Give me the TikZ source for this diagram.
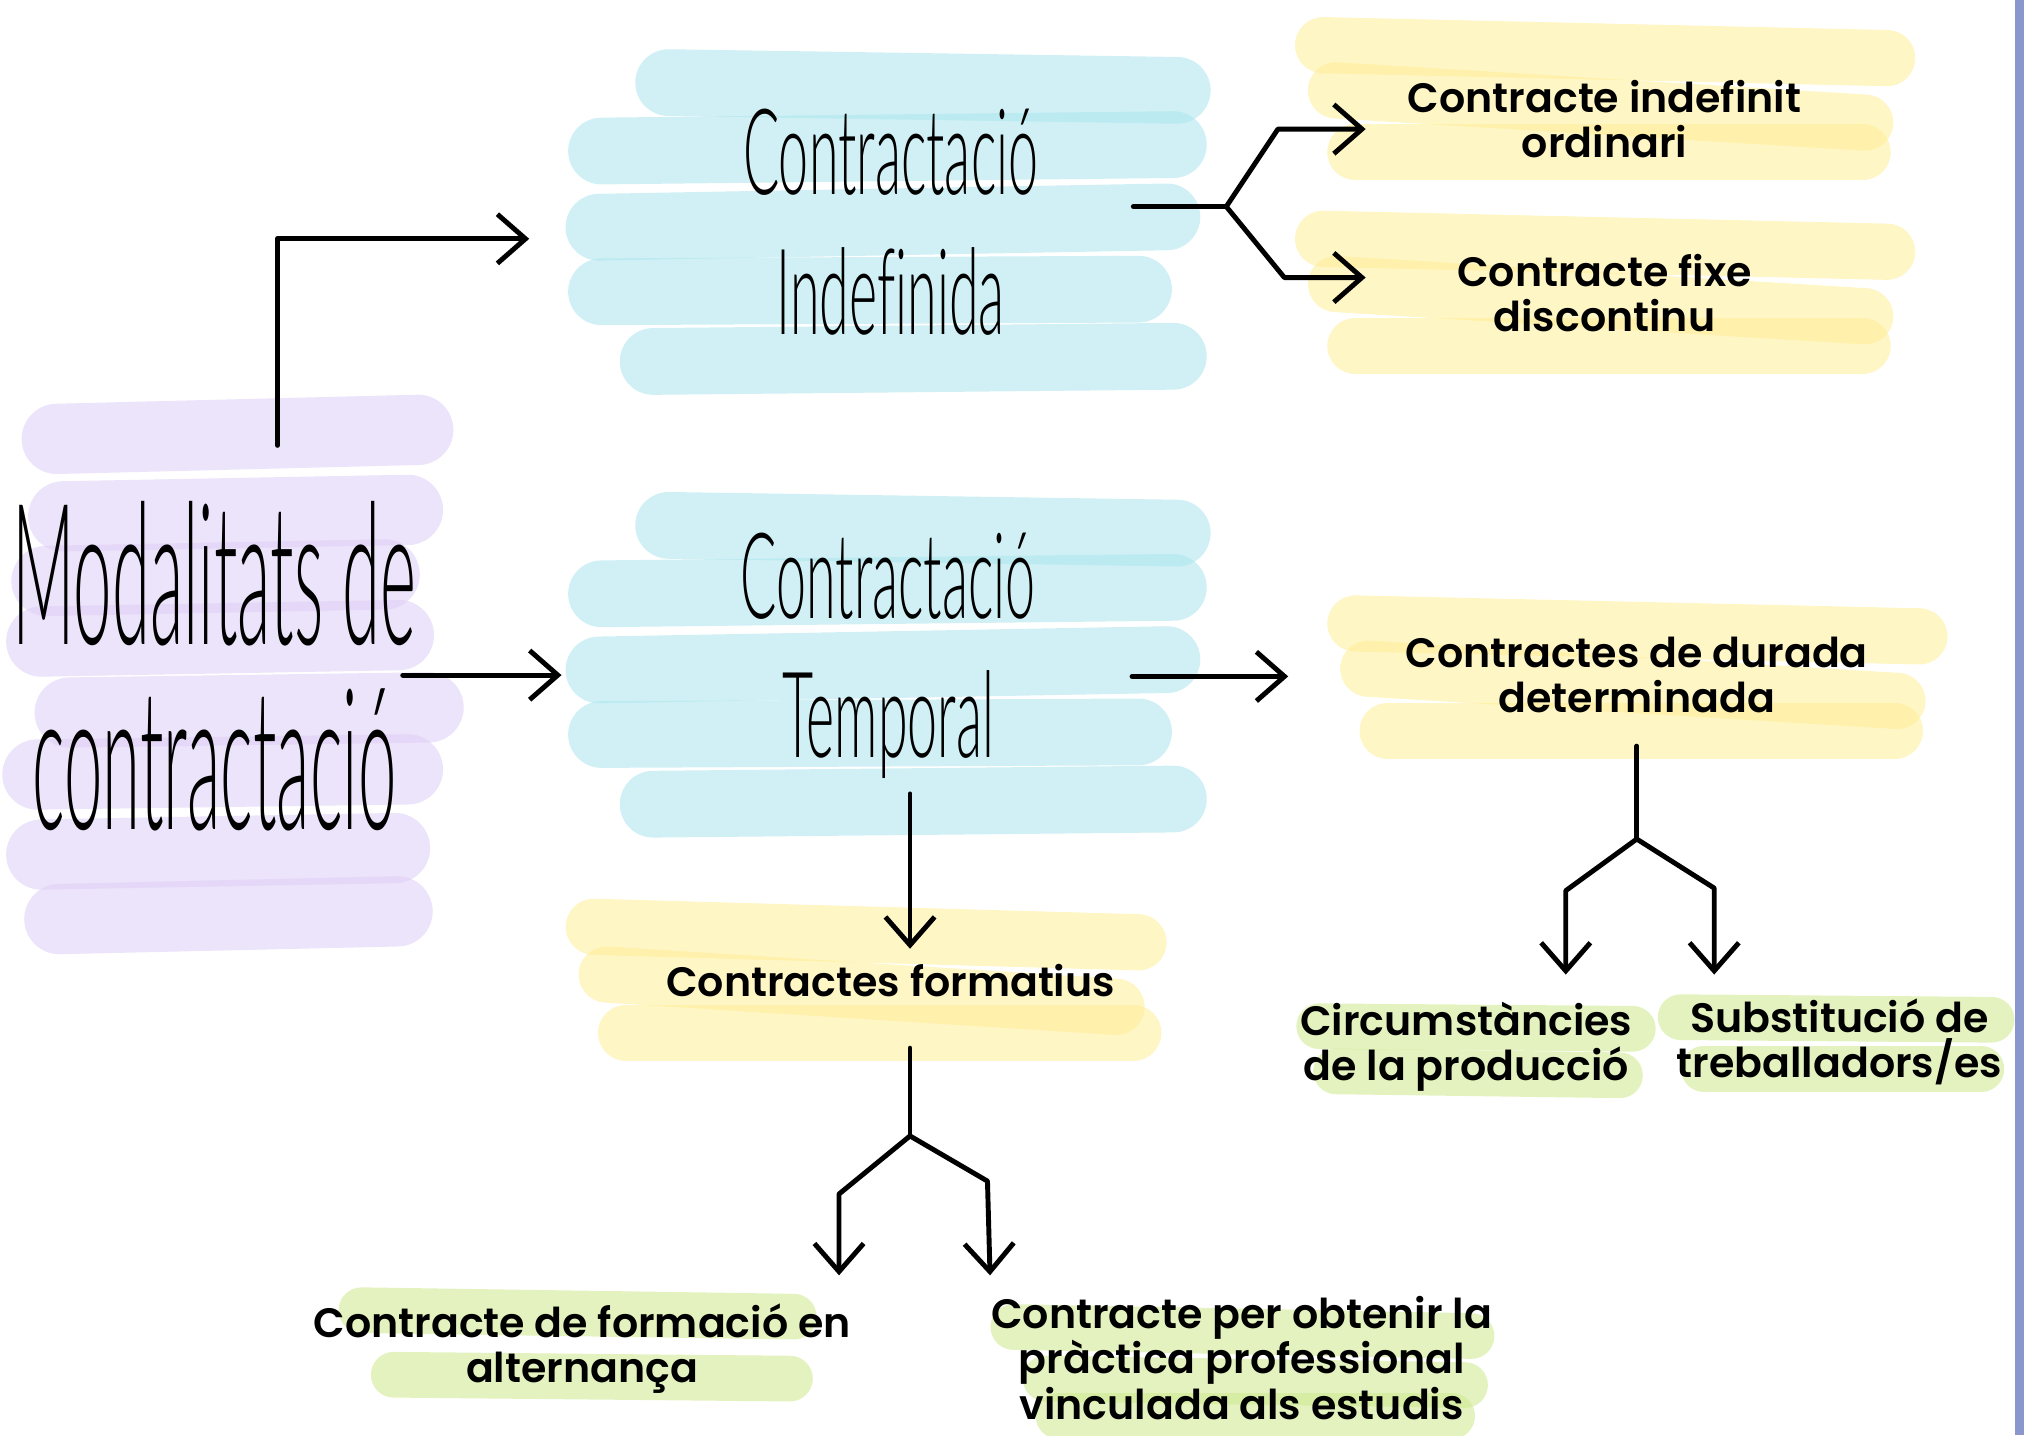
\documentclass[tikz,border=0pt]{standalone}
\usepackage{fontspec}
\setmainfont{Poppins}
\IfFontExistsTF{Poppins SemiBold}{%
  \newfontfamily\bodyfont{Poppins SemiBold}}{%
  \newcommand\bodyfont{\bfseries}}
\IfFontExistsTF{Lato Light}{%
  \newfontfamily\handfont[FakeStretch=0.45,Ligatures=NoCommon]{Lato Light}%
  \newfontfamily\bighand[FakeStretch=0.35,Ligatures=NoCommon]{Lato Light}}{%
  \newfontfamily\handfont[FakeStretch=0.45]{Fira Sans}%
  \newfontfamily\bighand[FakeStretch=0.35]{Fira Sans}}
\usetikzlibrary{arrows.meta,calc}
\definecolor{lilacbr}{RGB}{221,205,245}
\definecolor{aquabr}{RGB}{170,228,236}
\definecolor{butterbr}{RGB}{255,238,150}
\definecolor{limebr}{RGB}{205,232,140}
\definecolor{edgebar}{RGB}{138,151,204}
\tikzset{
  brush/.style={line width=19pt, line cap=round, opacity=.55},
  lbl/.style={inner sep=0pt, align=center, font=\bodyfont\fontsize{11.7}{12.9}\selectfont},
  boxlbl/.style={inner sep=0pt, align=center, font=\handfont\fontsize{34}{39.7}\selectfont},
  pen/.style={line width=1.4pt, line cap=round, line join=round},
  barb/.style={-{Straight Barb[length=8pt,width=14pt]}}
}
\begin{document}
\begin{tikzpicture}[x=0.012908cm, y=-0.012908cm]
  \useasboundingbox (0,0) rectangle (1568,1112);
  \fill[edgebar] (1561,0) rectangle (1568,1112);
  \foreach \xa/\ya/\xb/\yb in {44/340/324/333, 49/400/316/395, 36/450/298/445, 32/497/309/492,
      54/552/332/548, 29/600/316/596, 32/662/306/657, 46/712/308/706}
    \draw[brush, lilacbr, line width=20pt] (\xa,\ya) -- (\xb,\yb);
  \foreach \dy in {0,343}
    \foreach \xa/\ya/\xb/\yb in {518/64/912/70, 466/117/909/112, 464/176/904/168,
        466/226/882/224, 506/280/909/276}
      \draw[brush, aquabr] (\xa,\ya+\dy) -- (\xb,\yb+\dy);
  \foreach \dx/\dy in {0/0, 0/150, 25/448}
    \foreach \xa/\ya/\xb/\yb in {1025/35/1462/45, 1035/70/1445/95, 1050/118/1443/118}
      \draw[brush, butterbr, line width=16pt] (\xa+\dx,\ya+\dy) -- (\xb+\dx,\yb+\dy);
  \foreach \xa/\ya/\xb/\yb in {460/718/882/730, 470/755/865/780, 485/800/878/800}
    \draw[brush, butterbr, line width=16pt] (\xa,\ya) -- (\xb,\yb);
  \foreach \xa/\ya/\xb/\yb in {1022/795/1265/797, 1035/830/1255/833, 1302/788/1543/790,
      1320/828/1535/828, 280/1015/615/1020, 305/1065/612/1068, 785/1028/1140/1035,
      810/1068/1135/1073, 820/1097/1125/1097}
    \draw[brush, limebr, line width=13pt] (\xa,\ya) -- (\xb,\yb);

  \node[inner sep=0pt, align=center, font=\bighand\fontsize{56}{52.5}\selectfont]
    (modal) at (166,516) {Modalitats de\\contractació};
  \node[boxlbl] (indef) at (690,172) {Contractació\\Indefinida};
  \node[boxlbl] (temp) at (688,508) {Contractació\\Temporal};
  \node[lbl] (ordin) at (1243,92) {Contracte indefinit\\ordinari};
  \node[lbl] (fixe) at (1243,227) {Contracte fixe\\discontinu};
  \node[lbl] (durada) at (1268,523) {Contractes de durada\\determinada};
  \node[lbl] (format) at (690,760) {Contractes formatius};
  \node[lbl] (circ) at (1136,811) {Circumstàncies\\de la producció};
  \node[lbl] (subst) at (1425,807) {Substitució de\\treballadors/es};
  \node[lbl] (altern) at (451,1045) {Contracte de formació en\\alternança};
  \node[lbl] (practica) at (962,1052) {Contracte per obtenir la\\pràctica professional\\vinculada als estudis};

  \coordinate (split1) at ($(indef)+(260,-12)$);
  \coordinate (split2) at ($(format)+(15,120)$);
  \coordinate (split3) at ($(durada)+(0,127)$);

  \draw[pen,barb] ($(modal)+(49,-171)$) |- ($(indef)+(-280,13)$);
  \draw[pen,barb] ($(modal)+(146,7)$) -- ($(temp)+(-253,15)$);
  \draw[pen] ($(indef)+(188,-12)$) -- (split1);
  \draw[pen,barb] (split1) -- ($(ordin)+(-253,8)$) -- ($(ordin)+(-185,8)$);
  \draw[pen,barb] (split1) -- ($(fixe)+(-248,-12)$) -- ($(fixe)+(-185,-12)$);
  \draw[pen,barb] ($(temp)+(189,16)$) -- ($(durada)+(-270,1)$);
  \draw[pen,barb] ($(temp)+(17,107)$) -- ($(format)+(15,-25)$);
  \draw[pen] ($(format)+(15,52)$) -- (split2);
  \draw[pen,barb] (split2) -- ($(altern)+(199,-120)$) -- ($(altern)+(199,-57)$);
  \draw[pen,barb] (split2) -- ($(practica)+(-197,-137)$) -- ($(practica)+(-195,-64)$);
  \draw[pen] ($(durada)+(0,55)$) -- (split3);
  \draw[pen,barb] (split3) -- ($(circ)+(77,-121)$) -- ($(circ)+(77,-56)$);
  \draw[pen,barb] (split3) -- ($(subst)+(-97,-119)$) -- ($(subst)+(-97,-52)$);
\end{tikzpicture}
\end{document}
